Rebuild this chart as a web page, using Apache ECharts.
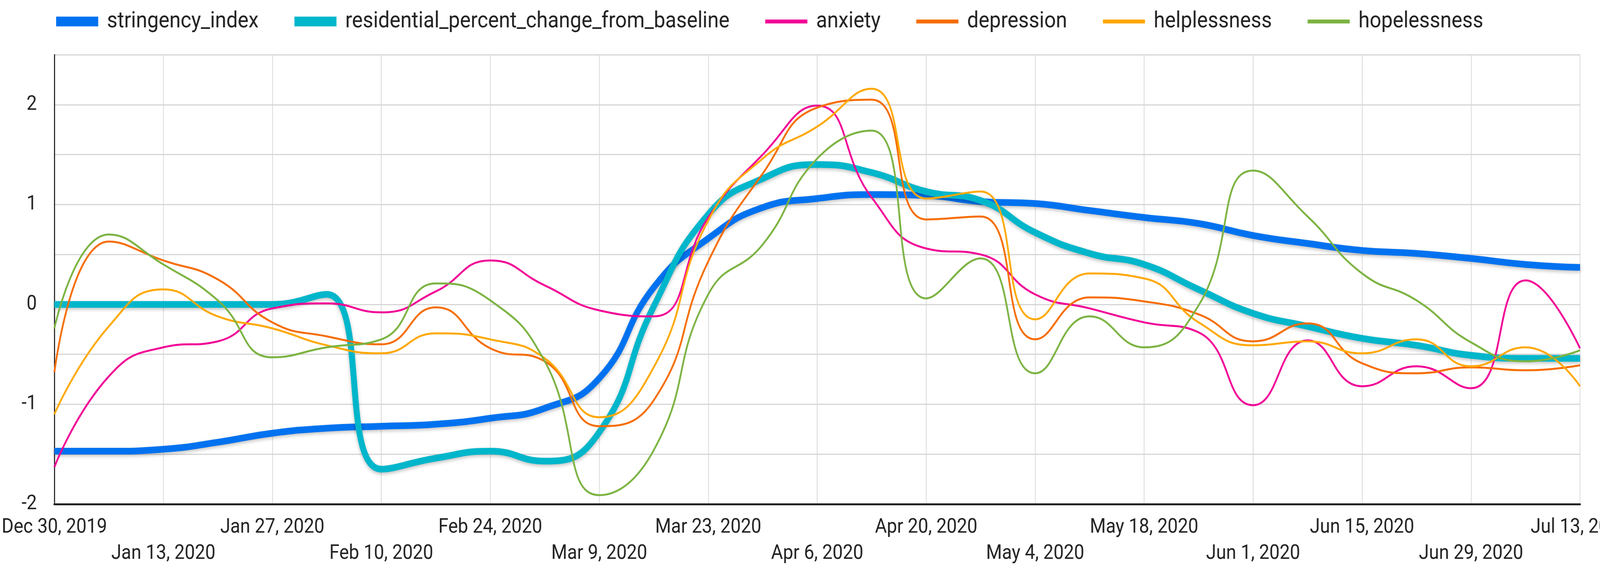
<!DOCTYPE html>
<html>
<head>
<meta charset="utf-8">
<title>stringency vs mood</title>
<script src="https://cdn.jsdelivr.net/npm/echarts@6/dist/echarts.min.js"></script>
<style>
  html, body { margin: 0; padding: 0; background: #fff; overflow: hidden; }
  #main { width: 4562px; height: 1456px; transform-origin: 0 0; }
</style>
</head>
<body>
<div id="main"></div>
<script>
// weekly points, one per Monday
var weeks = ['Dec 30, 2019', 'Jan 6, 2020', 'Jan 13, 2020', 'Jan 20, 2020', 'Jan 27, 2020',
  'Feb 3, 2020', 'Feb 10, 2020', 'Feb 17, 2020', 'Feb 24, 2020', 'Mar 2, 2020', 'Mar 9, 2020',
  'Mar 16, 2020', 'Mar 23, 2020', 'Mar 30, 2020', 'Apr 6, 2020', 'Apr 13, 2020', 'Apr 20, 2020',
  'Apr 27, 2020', 'May 4, 2020', 'May 11, 2020', 'May 18, 2020', 'May 25, 2020', 'Jun 1, 2020',
  'Jun 8, 2020', 'Jun 15, 2020', 'Jun 22, 2020', 'Jun 29, 2020', 'Jul 6, 2020', 'Jul 13, 2020'];

var stringency = [-1.47, -1.47, -1.45, -1.38, -1.29, -1.24, -1.22, -1.20, -1.14, -1.04, -0.74, 0.17,
  0.66, 0.97, 1.06, 1.10, 1.09, 1.03, 1.01, 0.94, 0.87, 0.81, 0.69, 0.61, 0.54, 0.51, 0.46, 0.40, 0.37];
var residential = [0, 0, 0, 0, 0, 0.10, -1.65, -1.54, -1.47, -1.57, -1.28, -0.02,
  0.90, 1.26, 1.40, 1.32, 1.13, 1.04, 0.72, 0.51, 0.40, 0.15, -0.09, -0.22, -0.34, -0.41, -0.51, -0.54, -0.54];
var anxiety = [-1.63, -0.72, -0.43, -0.37, -0.04, 0.01, -0.08, 0.13, 0.44, 0.19, -0.06, -0.12,
  0.87, 1.50, 1.99, 1.07, 0.56, 0.50, 0.10, -0.04, -0.18, -0.28, -1.01, -0.36, -0.82, -0.62, -0.84, 0.24, -0.44];
var depression = [-0.68, 0.63, 0.44, 0.25, -0.18, -0.32, -0.40, -0.03, -0.44, -0.57, -1.22, -0.96,
  0.43, 1.31, 1.97, 2.05, 0.85, 0.88, -0.35, 0.07, 0.03, -0.10, -0.37, -0.19, -0.59, -0.69, -0.63, -0.66, -0.61];
var helplessness = [-1.10, -0.22, 0.15, -0.12, -0.24, -0.41, -0.49, -0.29, -0.35, -0.54, -1.13, -0.63,
  0.84, 1.46, 1.78, 2.16, 1.06, 1.13, -0.15, 0.31, 0.26, -0.18, -0.41, -0.37, -0.49, -0.35, -0.62, -0.43, -0.82];
var hopelessness = [-0.24, 0.70, 0.40, 0.04, -0.53, -0.43, -0.35, 0.21, 0.04, -0.57, -1.91, -1.46,
  0.10, 0.60, 1.46, 1.74, 0.06, 0.46, -0.69, -0.12, -0.43, -0.01, 1.34, 0.88, 0.31, 0.04, -0.38, -0.57, -0.46];

var names = ['stringency_index', 'residential_percent_change_from_baseline', 'anxiety',
  'depression', 'helplessness', 'hopelessness'];
var colors = ['#0072f0', '#00b6cb', '#f10096', '#f66d00', '#ffa800', '#7cb342'];
var values = [stringency, residential, anxiety, depression, helplessness, hopelessness];

// the chart is laid out for 4562x1456; fit it to whatever window we get
var box = document.getElementById('main');
var sx = (window.innerWidth || 4562) / 4562;
var sy = (window.innerHeight || 1456) / 1456;
if (Math.abs(sx - 1) > 0.002 || Math.abs(sy - 1) > 0.002) {
  box.style.transform = 'scale(' + sx + ',' + sy + ')';
}

var myChart = echarts.init(box);

var series = names.map(function (n, i) {
  var thick = i < 2;
  return {
    name: n,
    type: 'line',
    data: values[i],
    smooth: 0.5,
    symbol: 'none',
    lineStyle: thick ? {
      width: 17, color: colors[i],
      shadowColor: 'rgba(0,0,0,0.25)', shadowBlur: 10, shadowOffsetY: 4
    } : { width: 5, color: colors[i] },
    itemStyle: { color: colors[i] }
  };
});

var legendData = names.map(function (n, i) {
  return {
    name: n,
    icon: i < 2 ? 'path://M0,0H120V25H0Z' : 'path://M0,0H120V10H0Z',
    itemStyle: { color: colors[i], borderWidth: 0 }
  };
});

var option = {
  backgroundColor: '#fff',
  animation: false,
  color: colors,
  textStyle: { fontFamily: 'Roboto' },
  legend: {
    left: 155,
    top: 20,
    itemWidth: 120,
    itemHeight: 25,
    itemGap: 102,
    data: legendData,
    textStyle: {
      fontSize: 58, color: '#222', fontFamily: 'Roboto',
      lineHeight: 60, padding: [0, 0, 0, 20]
    }
  },
  grid: {
    left: 155, right: 57, top: 140, bottom: 166,
    containLabel: false, outerBoundsMode: 'none'
  },
  xAxis: {
    type: 'category',
    data: weeks,
    boundaryGap: false,
    axisLine: { show: true, onZero: false, lineStyle: { color: '#222', width: 5 } },
    axisTick: { show: false },
    axisLabel: {
      interval: 1,
      hideOverlap: false,
      fontSize: 52,
      color: '#222',
      lineHeight: 67,
      margin: 26,
      formatter: function (v, idx) {
        return idx % 4 === 2 ? '\n' + v : v;
      }
    },
    splitLine: { show: true, interval: 1, lineStyle: { color: '#d6d6d6', width: 2 } }
  },
  yAxis: {
    type: 'value',
    min: -2,
    max: 2.5,
    interval: 0.5,
    axisLine: { show: true, lineStyle: { color: '#222', width: 3 } },
    axisTick: { show: false },
    axisLabel: {
      fontSize: 52,
      color: '#222',
      margin: 50,
      formatter: function (v) { return v % 1 === 0 ? String(v) : ''; }
    },
    splitLine: { lineStyle: { color: '#d6d6d6', width: 3 } }
  },
  series: series
};

myChart.setOption(option);
</script>
</body>
</html>
